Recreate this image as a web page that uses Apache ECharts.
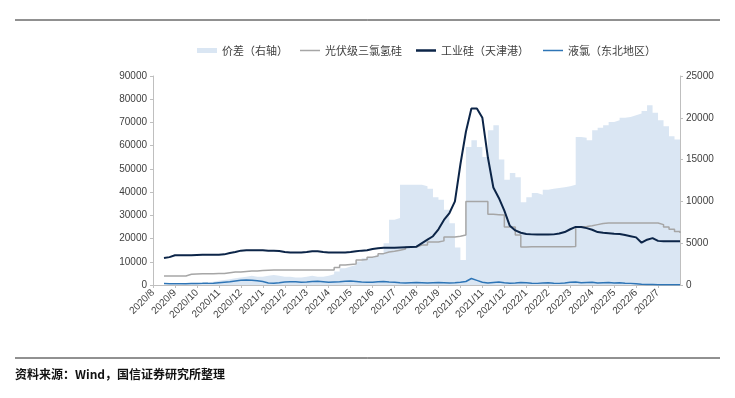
<!DOCTYPE html>
<html>
<head>
<meta charset="utf-8">
<script src="https://cdn.jsdelivr.net/npm/echarts@6/dist/echarts.min.js"></script>
<style>
  html, body { margin: 0; padding: 0; background: #fff; }
  #main { width: 735px; height: 398px; }
</style>
</head>
<body>
<div id="main"></div>
<script>
// 月份刻度标签（每月 4 个周度数据点）
var months = ['2020/8', '2020/9', '2020/10', '2020/11', '2020/12', '2021/1', '2021/2', '2021/3',
  '2021/4', '2021/5', '2021/6', '2021/7', '2021/8', '2021/9', '2021/10', '2021/11', '2021/12',
  '2022/1', '2022/2', '2022/3', '2022/4', '2022/5', '2022/6', '2022/7', '2022/8'];

// 价差（右轴）
var spread = [null, null, 0, 0, 0, 100, 100, 200,
  200, 300, 400, 500, 600, 700, 800, 900,
  1000, 1100, 1000, 1000, 1100, 1200, 1100, 1000,
  1000, 900, 900, 1000, 1100, 1000, 1000, 1100,
  1300, 1600, 2000, 2200, 2400, 2800, 3200, 3400,
  3600, 3800, 5000, 7800, 8000, 12000, 12000, 12000,
  12000, 11800, 11500, 10500, 10200, 9000, 7400, 4500,
  3000, 16500, 17300, 16500, 15300, 18500, 19100, 15000,
  12600, 13400, 12900, 9900, 10500, 11000, 10800, 11400,
  11500, 11600, 11700, 11800, 12000, 17700, 17600, 17300,
  18500, 18800, 19100, 19500, 19700, 20000, 20100, 20300,
  20500, 20800, 21500, 20600, 19700, 19000, 17800, 17400, 17300];

// 光伏级三氯氢硅
var tcs = [null, null, 3900, 3900, 3900, 3900, 4600, 4700,
  4800, 4800, 4800, 4900, 5000, 5300, 5600, 5600,
  5800, 6000, 6000, 6200, 6400, 6500, 6500, 6500,
  6500, 6500, 6500, 6500, 6500, 6500, 6500, 6500,
  6500, 7500, 8600, 8800, 9000, 10800, 11000, 12000,
  12500, 13500, 14200, 14500, 15000, 15500, 16400, 16400,
  17200, 17200, 18500, 18500, 19000, 20700, 20700, 21000,
  21500, 36000, 36000, 36000, 36000, 30500, 30300, 30100,
  25000, 25000, 21500, 16400, 16500, 16500, 16500, 16500,
  16500, 16500, 16500, 16500, 16600, 25000, 25200, 25500,
  26000, 26500, 26700, 26700, 26700, 26700, 26700, 26700,
  26700, 26700, 26700, 26700, 26000, 25000, 24000, 23000, 22400];

// 工业硅（天津港）
var silicon = [null, null, 11600, 12000, 12800, 12800, 12800, 12800,
  12900, 13000, 13000, 13000, 13000, 13200, 13800, 14200,
  14800, 15000, 15000, 15000, 15000, 14800, 14800, 14600,
  14200, 14000, 14000, 14000, 14200, 14500, 14500, 14200,
  14000, 14000, 14000, 14000, 14200, 14500, 14800, 15000,
  15500, 15800, 16000, 16000, 16000, 16200, 16300, 16400,
  16500, 18000, 19500, 21000, 24000, 28000, 31000, 36000,
  52000, 66000, 76000, 76000, 72000, 55000, 42000, 37500,
  32000, 25500, 23500, 22500, 22000, 21800, 21700, 21700,
  21700, 21800, 22200, 22800, 24000, 25000, 25000, 24500,
  23800, 22800, 22500, 22300, 22100, 22000, 21500, 21000,
  20500, 18200, 19500, 20200, 19000, 18800, 18800, 18800, 18800];

// 液氯（东北地区）
var chlorine = [null, null, 600, 500, 500, 500, 500, 600,
  600, 700, 700, 800, 1000, 1200, 1400, 1700,
  2000, 2200, 2000, 1800, 1500, 900, 800, 1000,
  1300, 1400, 1400, 1200, 1300, 1500, 1600, 1400,
  1200, 1300, 1400, 1600, 1700, 1500, 1300, 1200,
  1200, 1400, 1500, 1300, 1200, 1000, 900, 1000,
  1100, 1000, 900, 1000, 1100, 1000, 900, 1000,
  1200, 1500, 2800, 2000, 1200, 900, 1100, 1300,
  1000, 800, 900, 1100, 1000, 800, 700, 900,
  1000, 800, 700, 900, 1200, 1300, 1000, 1100,
  1200, 900, 1000, 1100, 900, 1000, 800, 700,
  500, 300, 200, 200, 100, 100, 100, 100, 100];

// 周度类目：每月 4 周，最后补 2022/8 第一周
var categories = [];
months.forEach(function (m, idx) {
  var n = idx === months.length - 1 ? 1 : 4;
  for (var w = 1; w <= n; w++) categories.push(m + ' W' + w);
});

var chart = echarts.init(document.getElementById('main'));
var axisGray = '#bfbfbf';
var labelColor = '#404040';
var font = 'Liberation Sans, Arial, sans-serif';
var C_AREA = '#dae6f3', C_TCS = '#a6a6a6', C_SI = '#0c2548', C_CL = '#2e75b6';

// 图例逐项定位
function legendAt(left, name, icon, h, color) {
  return {
    top: 40, left: left, itemWidth: 20, itemHeight: h, itemGap: 0,
    textStyle: { fontSize: 11, color: '#404040', fontFamily: 'Noto Sans CJK SC' },
    data: [{ name: name, icon: icon, itemStyle: { color: color } }]
  };
}

function monthTick(i) { return i % 4 === 0 && i < categories.length - 1; }

var option = {
  backgroundColor: '#fff',
  animation: false,
  legend: [
    legendAt(192, '价差（右轴）', 'rect', 5, C_AREA),
    legendAt(295, '光伏级三氯氢硅', 'rect', 1.5, C_TCS),
    legendAt(411, '工业硅（天津港）', 'rect', 2.5, C_SI),
    legendAt(538, '液氯（东北地区）', 'rect', 1.5, C_CL)
  ],
  grid: { left: 153, right: 55, top: 76, bottom: 113 },
  xAxis: {
    type: 'category',
    data: categories,
    boundaryGap: false,
    axisLine: { lineStyle: { color: axisGray } },
    axisTick: { interval: monthTick, length: 3, lineStyle: { color: axisGray } },
    axisLabel: {
      interval: monthTick,
      hideOverlap: false,
      rotate: 45,
      margin: 6,
      fontSize: 10,
      color: labelColor,
      fontFamily: font,
      formatter: function (v) { return v.split(' ')[0]; }
    },
    splitLine: { show: false }
  },
  yAxis: [
    {
      type: 'value',
      min: 0,
      max: 90000,
      interval: 10000,
      axisLine: { show: true, lineStyle: { color: axisGray } },
      axisTick: { show: true, length: 3, lineStyle: { color: axisGray } },
      axisLabel: { fontSize: 10, color: labelColor, fontFamily: font, margin: 6,
        formatter: function (v) { return String(v); } },
      splitLine: { show: false }
    },
    {
      type: 'value',
      min: 0,
      max: 25000,
      interval: 5000,
      axisLine: { show: true, lineStyle: { color: axisGray } },
      axisTick: { show: true, length: 3, lineStyle: { color: axisGray } },
      axisLabel: { fontSize: 10, color: labelColor, fontFamily: font, margin: 6,
        formatter: function (v) { return String(v); } },
      splitLine: { show: false }
    }
  ],
  series: [
    {
      name: '价差（右轴）',
      type: 'line',
      yAxisIndex: 1,
      step: 'end',
      data: spread,
      symbol: 'none',
      lineStyle: { width: 0, color: C_AREA },
      itemStyle: { color: C_AREA },
      areaStyle: { color: C_AREA, opacity: 1 },
      z: 1
    },
    {
      name: '光伏级三氯氢硅',
      type: 'line',
      step: 'end',
      data: tcs,
      symbol: 'none',
      lineStyle: { width: 1.5, color: C_TCS },
      itemStyle: { color: C_TCS },
      z: 2
    },
    {
      name: '工业硅（天津港）',
      type: 'line',
      data: silicon,
      symbol: 'none',
      lineStyle: { width: 2, color: C_SI },
      itemStyle: { color: C_SI },
      z: 3
    },
    {
      name: '液氯（东北地区）',
      type: 'line',
      data: chlorine,
      symbol: 'none',
      lineStyle: { width: 1.5, color: C_CL },
      itemStyle: { color: C_CL },
      z: 3
    }
  ],
  graphic: [
    { type: 'line', shape: { x1: 15, y1: 20, x2: 720, y2: 20 }, style: { stroke: '#222', lineWidth: 1 } },
    { type: 'line', shape: { x1: 15, y1: 358, x2: 720, y2: 358 }, style: { stroke: '#222', lineWidth: 1 } },
    {
      type: 'text', left: 15, top: 368,
      style: { text: '资料来源：Wind，国信证券研究所整理', fontSize: 12, fontWeight: 'bold',
        fill: '#111', fontFamily: 'Noto Sans CJK SC' }
    }
  ]
};

chart.setOption(option);
</script>
</body>
</html>
